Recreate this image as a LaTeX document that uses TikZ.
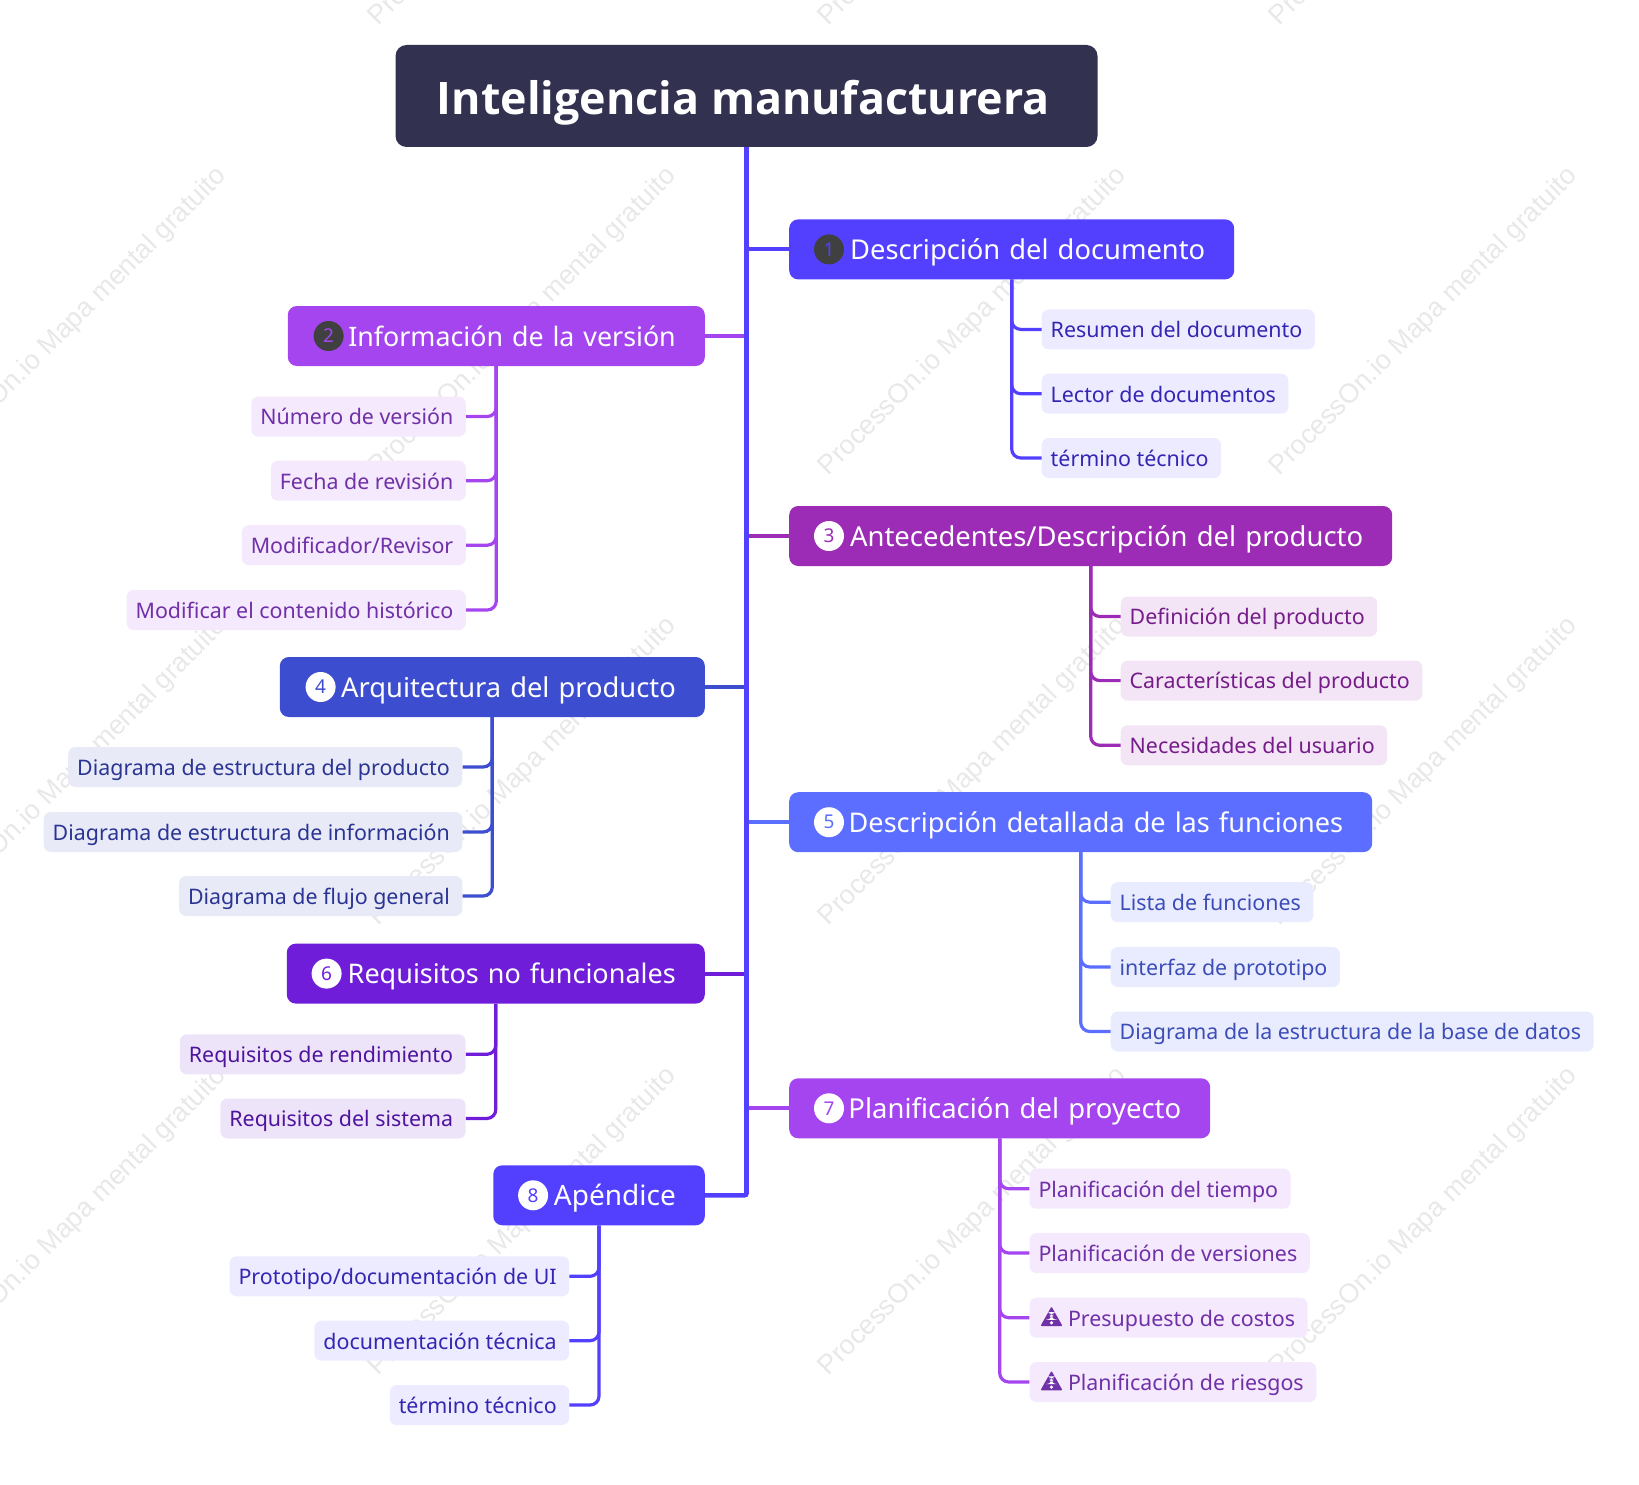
\documentclass[tikz,border=0pt]{standalone}
\usepackage{fontspec}
\setmainfont{Noto Sans}
\newfontfamily\markfont{Liberation Sans}
\newfontfamily\titlefont{Open Sans}
\usetikzlibrary{positioning,calc}

\definecolor{rootcol}{HTML}{32314F}
\definecolor{trunkcol}{HTML}{5340FF}
\definecolor{darkdot}{HTML}{404040}
\definecolor{blueA}{HTML}{5340FF}
\definecolor{blueAbg}{HTML}{ECEBFF}
\definecolor{blueAtx}{HTML}{3426B3}
\definecolor{violetA}{HTML}{A445EF}
\definecolor{violetAbg}{HTML}{F5E9FD}
\definecolor{violetAtx}{HTML}{7030A8}
\definecolor{plumA}{HTML}{9C2BB5}
\definecolor{plumAbg}{HTML}{F3E5F6}
\definecolor{plumAtx}{HTML}{761C8A}
\definecolor{indigoA}{HTML}{3D4DCF}
\definecolor{indigoAbg}{HTML}{E8EAF8}
\definecolor{indigoAtx}{HTML}{2A3593}
\definecolor{skyA}{HTML}{5B6EFF}
\definecolor{skyAbg}{HTML}{E9ECFF}
\definecolor{skyAtx}{HTML}{3D4DB8}
\definecolor{grapeA}{HTML}{6F1DD9}
\definecolor{grapeAbg}{HTML}{EDE4FA}
\definecolor{grapeAtx}{HTML}{4F149E}

\tikzset{
    rootbox/.style={fill=rootcol,text=white,rounded corners=11,minimum width=702,minimum height=102,inner ysep=0,text height=43,text depth=6,font=\fontsize{44.8}{54}\selectfont\titlefont\bfseries},
    topic/.style 2 args={fill=#1,text=white,rounded corners=9,inner xsep=29,inner ysep=0,minimum height=60,text width=#2,align=right,text height=23,text depth=3,font=\fontsize{27.3}{34}\selectfont},
    badge/.style 2 args={circle,fill=#1,text=#2,minimum size=30,inner sep=0,font=\fontsize{19}{22}\selectfont},
    leaf/.style 2 args={fill=#1,text=#2,rounded corners=7,inner xsep=9,inner ysep=0,minimum height=40,text height=20,text depth=3.4,font=\fontsize{21.4}{26}\selectfont,execute at end node={\hspace{3.5pt}}},
    trunk/.style={draw=trunkcol,line width=4.6},
    stub/.style={draw=#1,line width=4},
    branch/.style={draw=#1,line width=3.2,rounded corners=9},
    watermark/.style={text=black!9,rotate=45,font=\fontsize{27}{32}\selectfont\markfont},
}

\newcommand{\warnmark}{\hspace{2pt}\tikz[baseline=0pt,x=1pt,y=1pt]{
    \fill[violetAtx,rounded corners=1] (0,0) -- (22,0) -- (11,19.5) -- cycle;
    \fill[white] (9.7,6.2) -- (12.3,6.2) -- (12.9,14) -- (9.1,14) -- cycle;
    \fill[white] (11,3.2) circle (1.8);}\hspace{5.5pt}}

\begin{document}
\begin{tikzpicture}[x=1pt,y=-1pt]
    \useasboundingbox (0,0) rectangle (1639,1485);

    % Watermark grid
    \begin{scope}
        \clip (0,0) rectangle (1639,1485);
        \foreach \wx in {73,523,973,1424} {
            \foreach \wy in {-128,322,772,1222} {
                \node[watermark] (wm\wx\wy) at (\wx,\wy) {ProcessOn.io Mapa mental gratuito};
            }
        }
    \end{scope}

    % Root
    \node[rootbox] (root) at (746.5,96) {Inteligencia manufacturera\kern6.3pt};

    % Main topics, right side
    \node[topic={blueA}{387},anchor=west] (t1) at (789,249.4) {Descripción del documento};
    \node[topic={plumA}{545},anchor=west,font=\fontsize{27.45}{34}\selectfont] (t3) at (789,536) {Antecedentes/Descripción del producto};
    \node[topic={skyA}{525},anchor=west,font=\fontsize{27.1}{34}\selectfont] (t5) at (789,822.2) {Descripción detallada de las funciones};
    \node[topic={violetA}{363},anchor=west,font=\fontsize{27.45}{34}\selectfont] (t7) at (789,1108.3) {Planificación del proyecto};

    % Main topics, left side
    \node[topic={violetA}{359},anchor=east,font=\fontsize{26.8}{34}\selectfont] (t2) at (705,336) {Información de la versión};
    \node[topic={indigoA}{367},anchor=east] (t4) at (705,687) {Arquitectura del producto};
    \node[topic={grapeA}{360},anchor=east,font=\fontsize{27}{34}\selectfont] (t6) at (705,973.6) {Requisitos no funcionales};
    \node[topic={blueA}{153.5},anchor=east,font=\fontsize{28}{34}\selectfont] (t8) at (705,1195.3) {Apéndice};

    % Number badges
    \node[badge={darkdot}{blueA}] (b1) at ([xshift=40]t1.west) {1};
    \node[badge={darkdot}{violetA}] (b2) at ([xshift=41]t2.west) {2};
    \node[badge={white}{plumA}] (b3) at ([xshift=40]t3.west) {3};
    \node[badge={white}{indigoA}] (b4) at ([xshift=41]t4.west) {4};
    \node[badge={white}{skyA}] (b5) at ([xshift=40]t5.west) {5};
    \node[badge={white}{grapeA}] (b6) at ([xshift=40]t6.west) {6};
    \node[badge={white}{violetA}] (b7) at ([xshift=40]t7.west) {7};
    \node[badge={white}{blueA}] (b8) at ([xshift=40]t8.west) {8};

    % Leaves of topic 1
    \node[leaf={blueAbg}{blueAtx},anchor=west] (l11) at (1041.5,329.4) {Resumen del documento};
    \node[leaf={blueAbg}{blueAtx},anchor=west] (l12) at (1041.5,393.7) {Lector de documentos};
    \node[leaf={blueAbg}{blueAtx},anchor=west] (l13) at (1041.5,458) {término técnico};

    % Leaves of topic 2
    \node[leaf={violetAbg}{violetAtx},anchor=east] (l21) at (466,416.5) {Número de versión};
    \node[leaf={violetAbg}{violetAtx},anchor=east] (l22) at (466,480.7) {Fecha de revisión};
    \node[leaf={violetAbg}{violetAtx},anchor=east] (l23) at (466,545.2) {Modificador/Revisor};
    \node[leaf={violetAbg}{violetAtx},anchor=east] (l24) at (466,610) {Modificar el contenido histórico};

    % Leaves of topic 3
    \node[leaf={plumAbg}{plumAtx},anchor=west] (l31) at (1120.5,616.5) {Definición del producto};
    \node[leaf={plumAbg}{plumAtx},anchor=west] (l32) at (1120.5,680.6) {Características del producto};
    \node[leaf={plumAbg}{plumAtx},anchor=west] (l33) at (1120.5,745.3) {Necesidades del usuario};

    % Leaves of topic 4
    \node[leaf={indigoAbg}{indigoAtx},anchor=east] (l41) at (462.5,767) {Diagrama de estructura del producto};
    \node[leaf={indigoAbg}{indigoAtx},anchor=east] (l42) at (462.5,832) {Diagrama de estructura de información};
    \node[leaf={indigoAbg}{indigoAtx},anchor=east] (l43) at (462.5,896) {Diagrama de flujo general};

    % Leaves of topic 5
    \node[leaf={skyAbg}{skyAtx},anchor=west] (l51) at (1110.5,902.2) {Lista de funciones};
    \node[leaf={skyAbg}{skyAtx},anchor=west] (l52) at (1110.5,967) {interfaz de prototipo};
    \node[leaf={skyAbg}{skyAtx},anchor=west] (l53) at (1110.5,1031.5) {Diagrama de la estructura de la base de datos};

    % Leaves of topic 6
    \node[leaf={grapeAbg}{grapeAtx},anchor=east] (l61) at (465.8,1054.3) {Requisitos de rendimiento};
    \node[leaf={grapeAbg}{grapeAtx},anchor=east] (l62) at (465.8,1118.5) {Requisitos del sistema};

    % Leaves of topic 7
    \node[leaf={violetAbg}{violetAtx},anchor=west] (l71) at (1029.3,1188.7) {Planificación del tiempo};
    \node[leaf={violetAbg}{violetAtx},anchor=west] (l72) at (1029.3,1253) {Planificación de versiones};
    \node[leaf={violetAbg}{violetAtx},anchor=west] (l73) at (1029.3,1317.7) {\warnmark Presupuesto de costos};
    \node[leaf={violetAbg}{violetAtx},anchor=west] (l74) at (1029.3,1382) {\warnmark Planificación de riesgos};

    % Leaves of topic 8
    \node[leaf={blueAbg}{blueAtx},anchor=east] (l81) at (569.4,1276.3) {Prototipo/documentación de UI};
    \node[leaf={blueAbg}{blueAtx},anchor=east] (l82) at (569.4,1340.7) {documentación técnica};
    \node[leaf={blueAbg}{blueAtx},anchor=east] (l83) at (569.4,1405) {término técnico};

    % Branches to the leaves
    \foreach \l in {l11,l12,l13} \draw[branch=blueA] (t1.south) |- (\l.west);
    \foreach \l in {l21,l22,l23,l24} \draw[branch=violetA] (t2.south) |- (\l.east);
    \foreach \l in {l31,l32,l33} \draw[branch=plumA] (t3.south) |- (\l.west);
    \foreach \l in {l41,l42,l43} \draw[branch=indigoA] (t4.south) |- (\l.east);
    \foreach \l in {l51,l52,l53} \draw[branch=skyA] (t5.south) |- (\l.west);
    \foreach \l in {l61,l62} \draw[branch=grapeA] (t6.south) |- (\l.east);
    \foreach \l in {l71,l72,l73,l74} \draw[branch=violetA] (t7.south) |- (\l.west);
    \foreach \l in {l81,l82,l83} \draw[branch=blueA] (t8.south) |- (\l.east);

    % Stubs to the trunk
    \draw[stub=blueA] (t1.west) -- (t1.west -| root.south);
    \draw[stub=violetA] (t2.east) -- (t2.east -| root.south);
    \draw[stub=plumA] (t3.west) -- (t3.west -| root.south);
    \draw[stub=indigoA] (t4.east) -- (t4.east -| root.south);
    \draw[stub=skyA] (t5.west) -- (t5.west -| root.south);
    \draw[stub=grapeA] (t6.east) -- (t6.east -| root.south);
    \draw[stub=violetA] (t7.west) -- (t7.west -| root.south);

    % Trunk
    \draw[trunk,rounded corners=2] (root.south) |- (t8.east);
\end{tikzpicture}
\end{document}
